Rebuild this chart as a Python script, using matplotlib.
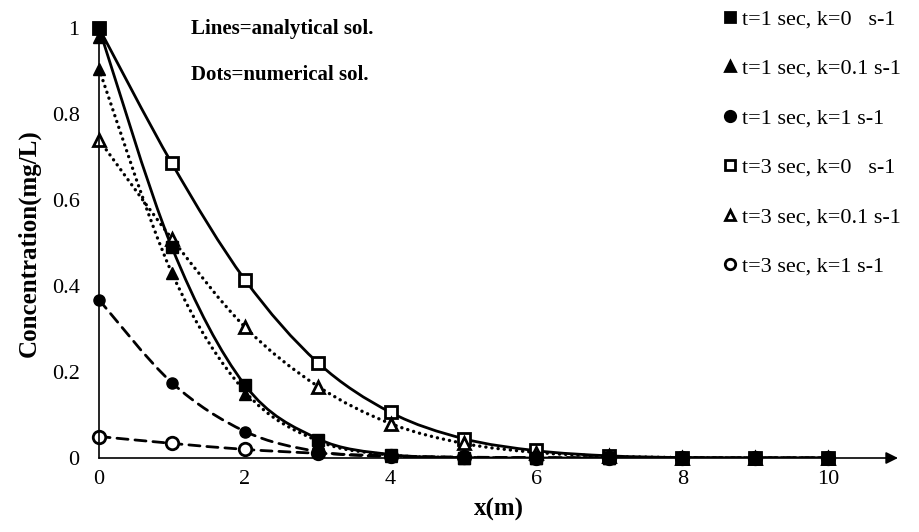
import numpy as np
import matplotlib.pyplot as plt
from matplotlib.path import Path
from matplotlib.patches import PathPatch

plt.rcParams['font.family'] = ['Liberation Serif', 'DejaVu Serif']

x = [0, 1, 2, 3, 4, 5, 6, 7, 8, 9, 10]

# analytical solution (smooth lines)
ana_t1_k0 = [1.0, 0.49, 0.17, 0.045, 0.008, 0.001, 0, 0, 0, 0, 0]
ana_t1_k01 = [0.905, 0.43, 0.155, 0.04, 0.007, 0.001, 0, 0, 0, 0, 0]
ana_t1_k1 = [0.368, 0.175, 0.062, 0.015, 0.003, 0, 0, 0, 0, 0, 0]
ana_t3_k0 = [1.0, 0.685, 0.415, 0.222, 0.106, 0.045, 0.017, 0.005, 0.001, 0, 0]
ana_t3_k01 = [0.74, 0.51, 0.305, 0.167, 0.08, 0.034, 0.013, 0.004, 0.001, 0, 0]
ana_t3_k1 = [0.05, 0.034, 0.02, 0.011, 0.005, 0.002, 0.001, 0, 0, 0, 0]

# numerical solution (markers)
num_t1_k0 = [1.0, 0.49, 0.17, 0.043, 0.006, 0.001, 0, 0, 0, 0, 0]
num_t1_k01_x = [0, 0, 1, 2, 3, 4, 5, 6, 7, 8, 9, 10]
num_t1_k01 = [0.98, 0.905, 0.43, 0.15, 0.035, 0.005, 0.001, 0, 0, 0, 0, 0]
num_t1_k1 = [0.368, 0.175, 0.061, 0.013, 0.007, 0.001, 0, 0, 0, 0, 0]
num_t3_k0 = [1.0, 0.685, 0.415, 0.222, 0.106, 0.044, 0.019, 0.005, 0.001, 0, 0]
num_t3_k01 = [0.74, 0.51, 0.304, 0.166, 0.079, 0.035, 0.012, 0.004, 0.001, 0, 0]
num_t3_k1 = [0.05, 0.034, 0.02, 0.011, 0.005, 0.002, 0.001, 0, 0, 0, 0]

labels = ['t=1 sec, k=0   s-1', 't=1 sec, k=0.1 s-1', 't=1 sec, k=1 s-1',
          't=3 sec, k=0   s-1', 't=3 sec, k=0.1 s-1', 't=3 sec, k=1 s-1']


def smooth_path(xs, ys):
    # catmull-rom style bezier, like a smoothed excel line
    pts = np.column_stack([xs, ys]).astype(float)
    ext = np.vstack([pts[0], pts, pts[-1]])
    verts = [pts[0]]
    codes = [Path.MOVETO]
    for i in range(len(pts) - 1):
        p0, p1, p2, p3 = ext[i], ext[i + 1], ext[i + 2], ext[i + 3]
        verts += [p1 + (p2 - p0) / 6, p2 - (p3 - p1) / 6, p2]
        codes += [Path.CURVE4] * 3
    return Path(verts, codes)


fig = plt.figure(figsize=(9.2, 5.32), dpi=100)
ax = fig.add_axes([99 / 920, 74 / 532, 799 / 920, 430 / 532])

dotted = (0, (0.05, 1.8))
dashed = (0, (4, 2.5))
for ys, ls, lw in [(ana_t3_k1, dashed, 2), (ana_t1_k1, dashed, 2),
                   (ana_t3_k01, dotted, 2.4), (ana_t1_k01, dotted, 2.4),
                   (ana_t3_k0, '-', 2), (ana_t1_k0, '-', 2)]:
    ax.add_patch(PathPatch(smooth_path(x, ys), fill=False, lw=lw,
                           ls=ls, ec='black', capstyle='round'))

ms = 9
h4 = ax.plot(x, num_t3_k0, 's', ms=ms, mfc='white', mec='black', mew=2, clip_on=False)[0]
h5 = ax.plot(x, num_t3_k01, '^', ms=ms, mfc='white', mec='black', mew=2, clip_on=False)[0]
h6 = ax.plot(x, num_t3_k1, 'o', ms=ms, mfc='white', mec='black', mew=2, clip_on=False)[0]
h3 = ax.plot(x, num_t1_k1, 'o', ms=8, color='black', clip_on=False)[0]
h2 = ax.plot(num_t1_k01_x, num_t1_k01, '^', ms=ms, color='black', clip_on=False)[0]
h1 = ax.plot(x, num_t1_k0, 's', ms=ms, color='black', clip_on=False)[0]

ax.set_xlim(0, 10.96)
ax.set_ylim(0, 1)
ax.set_xticks([0, 2, 4, 6, 8, 10])
ax.set_yticks([0, 0.2, 0.4, 0.6, 0.8, 1])
ax.set_yticklabels(['0', '0.2', '0.4', '0.6', '0.8', '1'])
ax.tick_params(length=0, labelsize=16)
ax.tick_params(axis='y', pad=14)
ax.tick_params(axis='x', pad=9)
for s in ['top', 'right', 'bottom']:
    ax.spines[s].set_visible(False)
ax.spines['left'].set_linewidth(1.2)
ax.annotate('', xy=(1, 0), xytext=(0, 0), xycoords='axes fraction',
            arrowprops=dict(arrowstyle='-|>', lw=1.2, color='black', mutation_scale=18,
                            shrinkA=0, shrinkB=0))

ax.set_xlabel('x(m)', fontsize=18, fontweight='bold', labelpad=6)
ax.set_ylabel('Concentration(mg/L)', fontsize=18, fontweight='bold', labelpad=8)

fig.text(191 / 920, 1 - 29 / 532, 'Lines=analytical sol.', fontsize=15,
         fontweight='bold', va='center')
fig.text(191 / 920, 1 - 75 / 532, 'Dots=numerical sol.', fontsize=15,
         fontweight='bold', va='center')

leg_handles = [plt.Line2D([], [], ls='none', marker=h.get_marker(), ms=7.5,
                          mfc=h.get_markerfacecolor(), mec='black', mew=2)
               for h in [h1, h2, h3, h4, h5, h6]]
fig.legend(leg_handles, labels, loc='upper left', bbox_to_anchor=(722 / 920, 1 - 9 / 532),
           frameon=False, fontsize=16, labelspacing=1.3, handlelength=0.7,
           handletextpad=0.2, borderpad=0, borderaxespad=0)

fig.savefig('out.png', dpi=100)
